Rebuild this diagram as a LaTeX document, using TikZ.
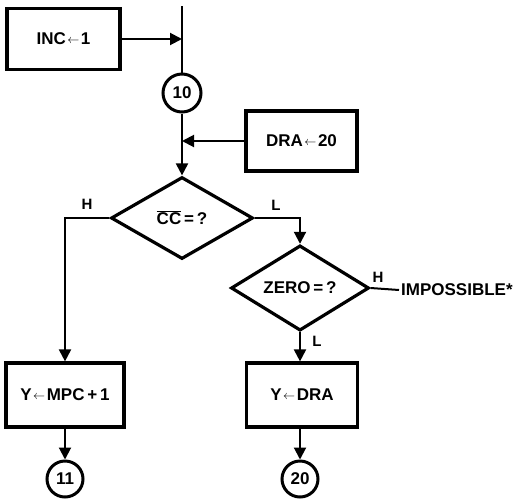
\documentclass[tikz,border=0pt]{standalone}
\usepackage{fontspec}
\setmainfont{Liberation Sans}
\usetikzlibrary{arrows.meta,shapes.geometric}
\newcommand{\lar}{\hspace{1.5pt}\raisebox{0.2ex}{\scalebox{0.7}{$\leftarrow$}}\hspace{1.5pt}}
\begin{document}
\begin{tikzpicture}[x=1pt,y=-1pt,
  font=\fontsize{17}{20}\selectfont\bfseries,
  box/.style={draw,line width=3.2pt,rectangle,inner sep=0pt},
  dia/.style={draw,line width=3.2pt,diamond,inner sep=0pt},
  conn/.style={draw,line width=3pt,circle,inner sep=0pt,minimum size=36pt},
  wire/.style={line width=2pt},
  arr/.style={wire,-{Triangle[length=12pt,width=12pt]}},
  lab/.style={font=\fontsize{15}{17}\selectfont\bfseries,inner sep=0pt}]
\useasboundingbox (0,0) rectangle (521,499);
\node[box,minimum width=113pt,minimum height=61pt] (inc) at (63.5,39) {INC\lar 1};
\coordinate (top) at (182,6);
\coordinate (j1) at (182,39);
\node[conn,minimum size=38pt] (ten) at (182,93) {10};
\node[box,minimum width=111pt,minimum height=60pt] (dra) at (301.5,141) {DRA\lar 20};
\coordinate (j2) at (182,141);
\node[dia,minimum width=142pt,minimum height=82pt] (cc) at (182,218) {$\overline{\mbox{CC}}$\,=\,?};
\node[dia,minimum width=138pt,minimum height=80pt] (zero) at (300,288) {ZERO\,=\,?};
\node[anchor=west,inner sep=2pt] (imp) at (399,290) {IMPOSSIBLE*};
\node[box,minimum width=118pt,minimum height=64pt] (ympc) at (65,395) {Y\lar MPC\,+\,1};
\node[box,minimum width=111pt,minimum height=64pt] (ydra) at (302,395) {Y\lar DRA};
\node[conn] (eleven) at (65,479) {11};
\node[conn] (twenty) at (300,479) {20};
\node[lab] (h1) at (87,204) {H};
\node[lab] (l1) at (276,205) {L};
\node[lab] (h2) at (378,277) {H};
\node[lab] (l2) at (317,341) {L};
\draw[wire] (top) -- (ten);
\draw[arr] (inc.east |- j1) -- (j1);
\draw[arr] (dra.west) -- (j2);
\draw[arr] (ten) -- (cc.north);
\draw[arr] (cc.west) -| (ympc.north);
\draw[arr] (cc.east) -| (zero.north);
\draw[wire] (zero.east) -- (imp.west);
\draw[arr] (zero.south) -- (zero.south |- ydra.north);
\draw[arr] (ympc.south) -- (eleven.north);
\draw[arr] (ydra.south -| twenty.north) -- (twenty.north);
\end{tikzpicture}
\end{document}
